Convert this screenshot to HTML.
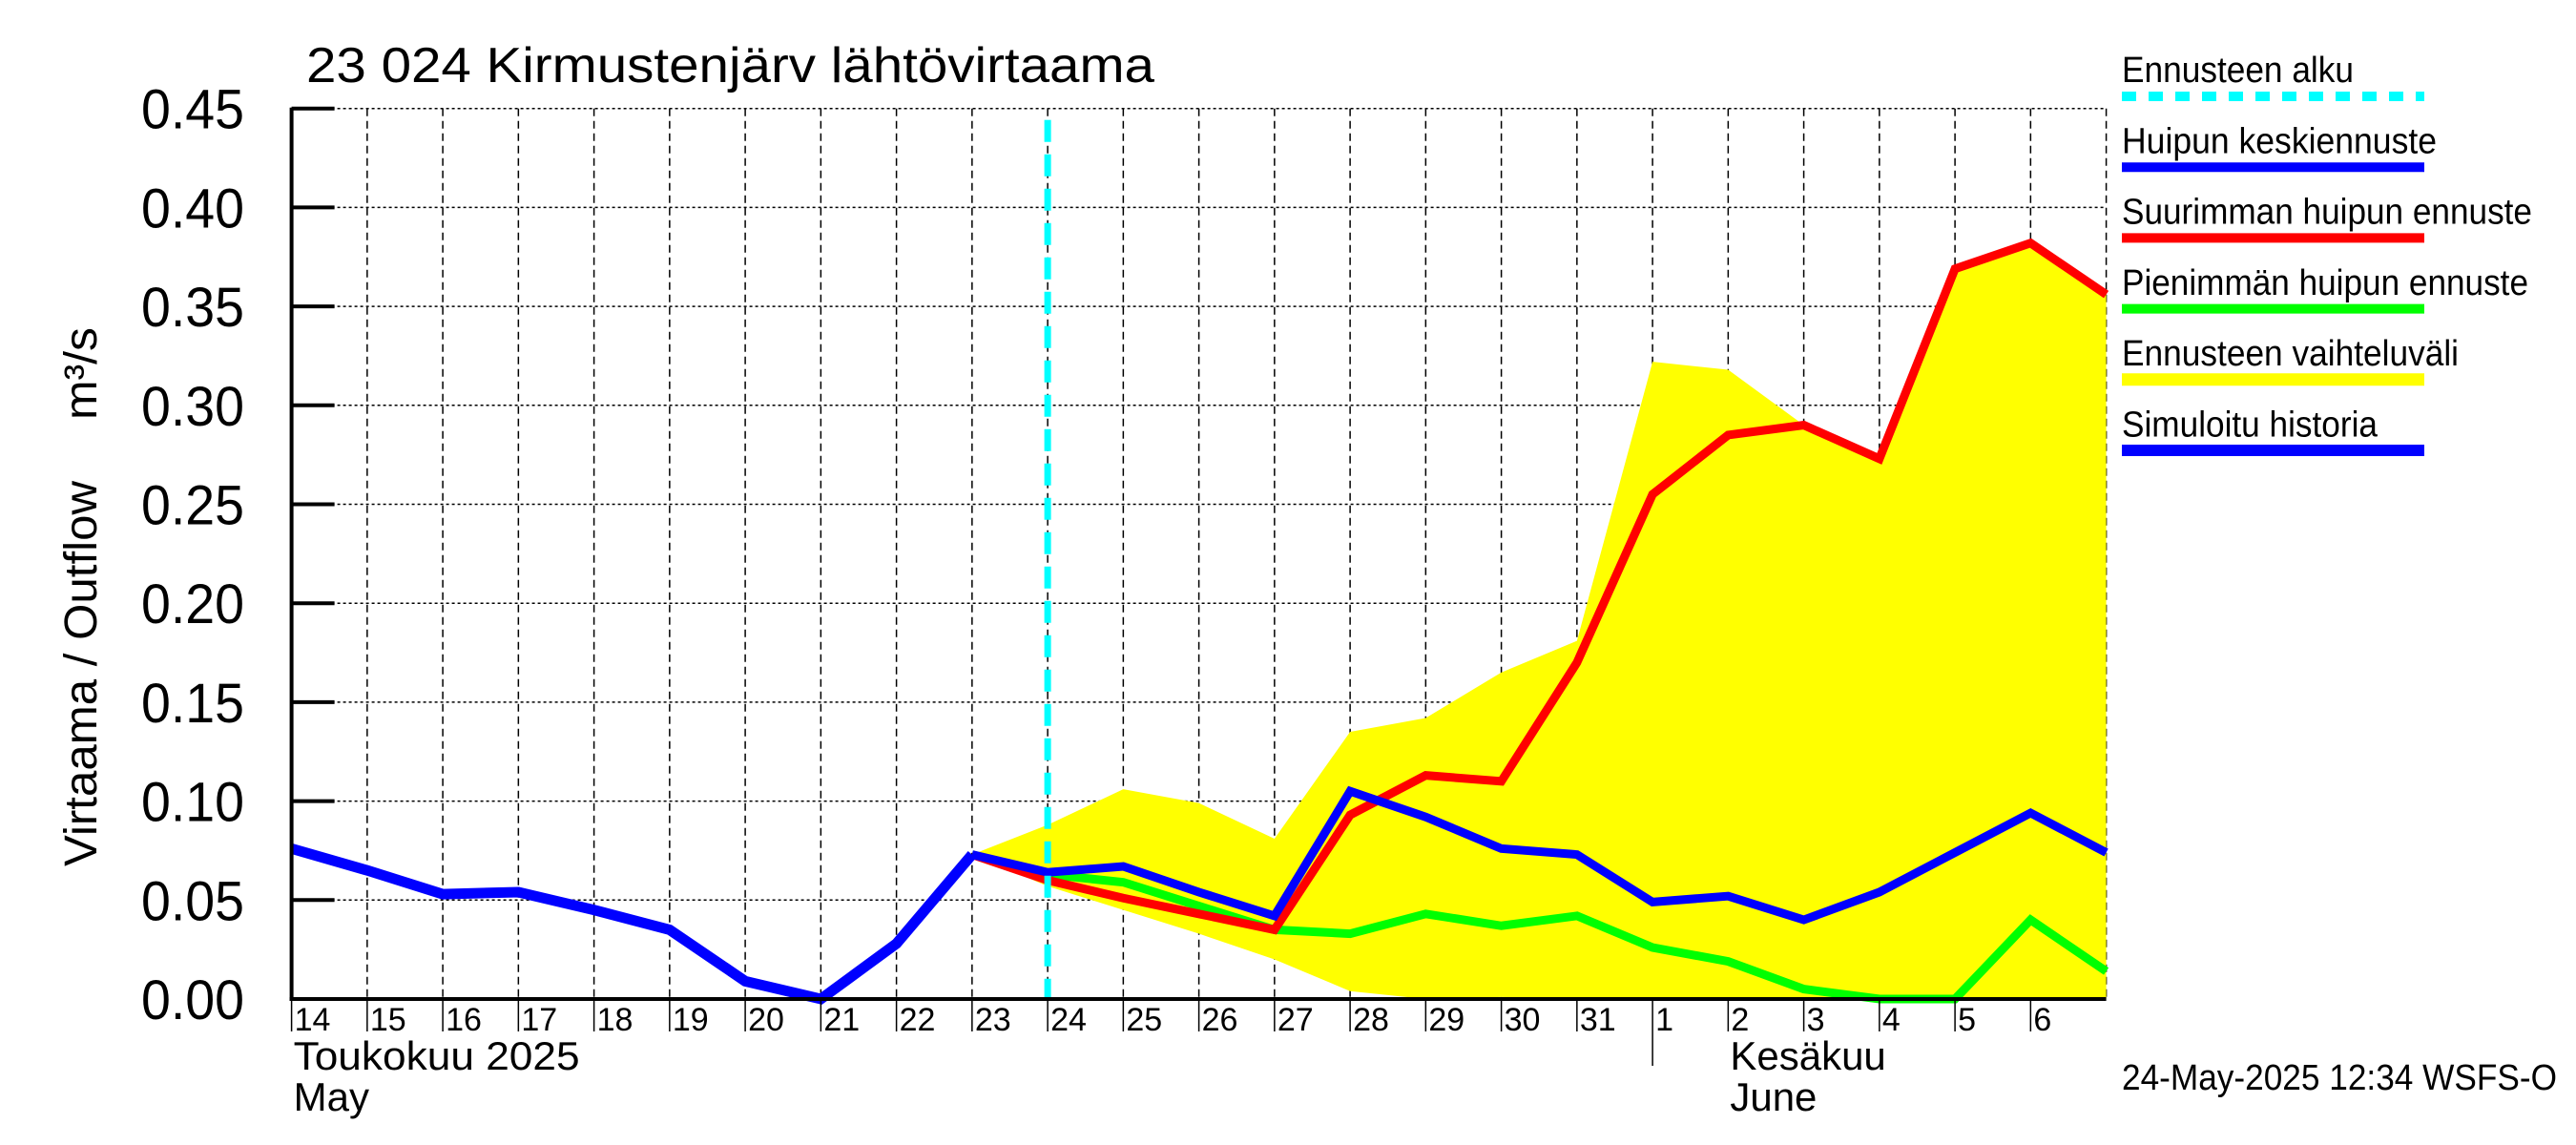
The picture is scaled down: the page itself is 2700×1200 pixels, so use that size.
<!DOCTYPE html>
<html><head><meta charset="utf-8"><style>
html,body{margin:0;padding:0;background:#fff}
svg{display:block}
text{font-family:"Liberation Sans",sans-serif;fill:#000}
</style></head><body>
<svg id="chart" width="2700" height="1200" viewBox="0 0 2700 1200" xmlns="http://www.w3.org/2000/svg">
<g id="grid"></g>
<g id="band"></g>
<g id="series"></g>
<g id="axes"></g>
<text x="321" y="86" font-size="52" textLength="889" lengthAdjust="spacingAndGlyphs">23 024 Kirmustenjärv lähtövirtaama</text>
<text transform="translate(101,908) rotate(-90)" font-size="48" textLength="404" lengthAdjust="spacingAndGlyphs">Virtaama / Outflow</text>
<text transform="translate(101,440) rotate(-90)" font-size="48" textLength="97" lengthAdjust="spacingAndGlyphs">m³/s</text>
<g id="legend"></g>
<text x="2224" y="1142" font-size="38" textLength="456" lengthAdjust="spacingAndGlyphs">24-May-2025 12:34 WSFS-O</text>
</svg>
<script>
const dayLabels=["14","15","16","17","18","19","20","21","22","23","24","25","26","27","28","29","30","31","1","2","3","4","5","6"];
const yTicks=[0,0.05,0.10,0.15,0.20,0.25,0.30,0.35,0.40,0.45];
const histX=[0,1,2,3,4,5,6,7,8,9];
const histV=[0.076,0.065,0.053,0.054,0.045,0.035,0.009,0.0,0.028,0.073];
const fcX=[9,10,11,12,13,14,15,16,17,18,19,20,21,22,23,24];
const meanV=[0.073,0.064,0.067,0.054,0.042,0.105,0.092,0.076,0.073,0.049,0.052,0.040,0.054,0.074,0.094,0.074];
const maxV=[0.073,0.060,0.051,0.043,0.035,0.093,0.113,0.110,0.170,0.255,0.285,0.290,0.273,0.369,0.382,0.356];
const minV=[0.073,0.063,0.059,0.047,0.035,0.033,0.043,0.037,0.042,0.026,0.019,0.005,0.0,0.0,0.040,0.014];
const bandHi=[0.073,0.088,0.106,0.099,0.081,0.135,0.142,0.165,0.181,0.322,0.318,0.290,0.273,0.369,0.382,0.356];
const bandLo=[0.073,0.057,0.045,0.033,0.020,0.004,0.0,0.001,0.0,0.0,0.0,0.0,0.0,0.0,0.0,0.0];
const forecastStart=10;
const monthStart=18;

const X0=305.6,DX=79.25,Y0=1047,YS=2074;
const xs=d=>X0+d*DX, ys=v=>Y0-v*YS;
const NS="http://www.w3.org/2000/svg";
function mk(tag,attrs,parent){const e=document.createElementNS(NS,tag);for(const k in attrs)e.setAttribute(k,attrs[k]);parent.appendChild(e);return e;}
const grid=document.getElementById('grid'),axes=document.getElementById('axes'),series=document.getElementById('series'),band=document.getElementById('band'),legend=document.getElementById('legend');
const XR=xs(24);
yTicks.forEach((v,i)=>{
  if(v>0){const g=mk('line',{x1:X0,x2:XR,y1:ys(v),y2:ys(v),stroke:'#000','stroke-width':1.5,'stroke-dasharray':'3 3'},grid);
  
  }
  const t=mk('line',{x1:X0,x2:X0+45,y1:ys(v),y2:ys(v),stroke:'#000','stroke-width':4},axes);
  
  
  const l=mk('text',{x:256,y:ys(v)+21,'font-size':58,'text-anchor':'end',textLength:108,lengthAdjust:'spacingAndGlyphs'},axes);
  
  
  l.textContent=v.toFixed(2);
});
for(let d=1;d<=24;d++){
  const g=mk('line',{x1:xs(d),x2:xs(d),y1:ys(0.45),y2:Y0,stroke:'#000','stroke-width':1.5,'stroke-dasharray':'8 5'},grid);
  
  
}
dayLabels.forEach((s,d)=>{
  const t=mk('line',{x1:xs(d),x2:xs(d),y1:Y0,y2:d===monthStart?1117:1081,stroke:'#000','stroke-width':1.5},axes);
  
  
  const l=mk('text',{x:xs(d)+3,y:1080,'font-size':34},axes);
  
  
  l.textContent=s;
});
[["Toukokuu  2025",X0+2,1121,300],["May",X0+2,1164,null],["Kesäkuu",xs(monthStart+1)+2,1121,null],["June",xs(monthStart+1)+2,1164,null]].forEach(a=>{
  const l=mk('text',{x:a[1],y:a[2],'font-size':42},axes);
  if(a[3]){l.setAttribute('textLength',a[3]);l.setAttribute('lengthAdjust','spacingAndGlyphs');}
  
  
  l.textContent=a[0];
});
let pts=fcX.map((d,i)=>xs(d)+','+ys(bandHi[i]));
for(let i=fcX.length-1;i>=0;i--)pts.push(xs(fcX[i])+','+ys(bandLo[i]));
const bp=mk('polygon',{points:pts.join(' '),fill:'#ffff00'},band);


function line(xa,va,color,w,name){
  const p=mk('polyline',{points:xa.map((d,i)=>xs(d)+','+ys(va[i])).join(' '),fill:'none',stroke:color,'stroke-width':w,'stroke-linejoin':'miter'},series);
  
  
}
line(fcX,minV,'#00ff00',9,'min-peak-forecast-line');
line(fcX,maxV,'#ff0000',9,'max-peak-forecast-line');
line(fcX,meanV,'#0000ff',9,'mean-peak-forecast-line');
line(histX,histV,'#0000ff',11,'simulated-history-line');
const cy=mk('line',{x1:xs(forecastStart),x2:xs(forecastStart),y1:ys(0.45)+12,y2:Y0,stroke:'#00ffff','stroke-width':7,'stroke-dasharray':'23 13'},series);


const ya=mk('line',{x1:X0,x2:X0,y1:ys(0.45)-1,y2:Y0+2,stroke:'#000','stroke-width':4},axes);


const xa=mk('line',{x1:X0-2,x2:XR,y1:Y0,y2:Y0,stroke:'#000','stroke-width':4},axes);


const leg=[["Ennusteen alku","#00ffff",10,true,243],["Huipun keskiennuste","#0000ff",10,false,330],["Suurimman huipun ennuste","#ff0000",10,false,430],["Pienimmän huipun ennuste","#00ff00",10,false,426],["Ennusteen vaihteluväli","#ffff00",13,false,353],["Simuloitu historia","#0000ff",12,false,268]];
leg.forEach((e,i)=>{
  const ty=86+i*74.3, ly=101+i*74.2;
  const t=mk('text',{x:2224,y:ty,'font-size':38,textLength:e[4],lengthAdjust:'spacingAndGlyphs'},legend);
  
  
  t.textContent=e[0];
  const a={x1:2224,x2:2541,y1:ly,y2:ly,stroke:e[1],'stroke-width':e[2]};
  if(e[3])a['stroke-dasharray']='15 13';
  const l=mk('line',a,legend);
  
  
});
</script>
</body></html>
